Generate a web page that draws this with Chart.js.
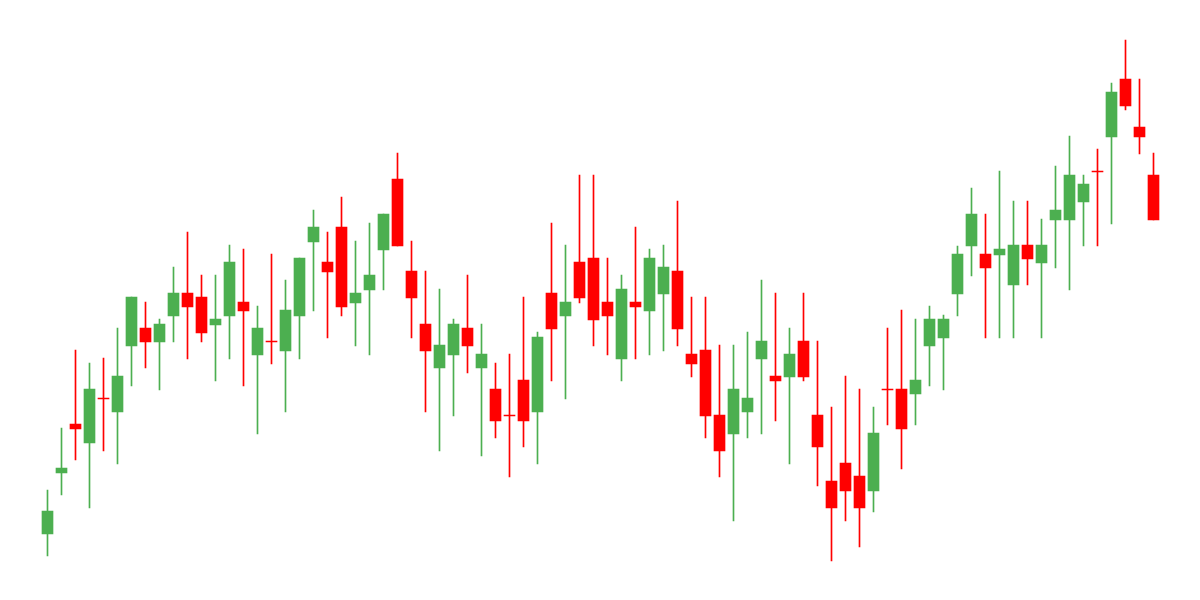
<!DOCTYPE html>
<html>
<head>
<meta charset="utf-8">
<script src="https://cdn.jsdelivr.net/npm/chart.js@4/dist/chart.umd.min.js"></script>
<style>
html,body{margin:0;padding:0;background:#fff;}
#wrap{width:1200px;height:600px;}
</style>
</head>
<body>
<div id="wrap"><canvas id="c" width="1200" height="600"></canvas></div>
<script>
const categories = Array.from({length: 80}, (_, i) => 'D' + (i + 1));
const openValues  = [66,127,176,157,202,188,254,272,258,284,307,303,275,284,298,245,259,249,284,358,
                     338,373,297,310,350,421,329,276,232,245,272,232,211,185,220,188,307,284,338,342,
                     298,241,298,289,306,329,246,250,185,166,188,241,224,223,259,185,119,137,124,109,
                     211,211,206,254,262,306,354,346,345,315,355,337,380,380,398,429,463,521,473,425];
const closeValues = [89,132,171,211,201,224,303,258,276,307,293,267,281,338,289,272,258,290,342,373,
                     328,293,307,325,386,354,302,249,255,276,254,246,179,184,179,263,271,298,302,280,
                     284,311,293,342,333,271,236,184,149,211,202,259,219,246,223,153,92,109,92,167,
                     210,171,220,281,281,346,386,332,351,355,341,355,390,425,416,428,508,494,463,380];
const highValues  = [110,172,250,237,242,272,303,298,281,333,368,325,325,355,351,294,346,320,342,390,
                     368,403,359,377,386,447,359,329,311,281,325,276,237,246,303,268,377,355,425,425,
                     342,325,373,351,355,399,303,303,255,255,268,320,307,272,307,259,193,224,211,193,
                     272,290,281,294,285,354,412,386,429,399,399,381,434,464,425,451,517,560,521,447];
const lowValues   = [44,105,140,92,149,136,214,232,210,258,241,258,219,241,214,166,236,188,241,289,
                     262,284,254,245,310,354,262,188,149,184,227,144,162,123,153,136,219,201,297,254,
                     245,219,241,245,249,254,223,162,123,79,162,166,179,136,219,114,39,79,53,88,
                     175,131,175,214,210,284,324,262,262,262,315,262,332,310,354,354,376,490,446,380];

const upColor = '#4caf50';
const downColor = '#ff0000';
const candleColors = openValues.map((o, i) => closeValues[i] > o ? upColor : downColor);
const wickData = lowValues.map((l, i) => [l, highValues[i]]);
const bodyData = openValues.map((o, i) => [o, closeValues[i]]);

new Chart(document.getElementById('c'), {
  type: 'bar',
  data: {
    labels: categories,
    datasets: [
      {
        label: 'wick',
        data: wickData,
        backgroundColor: candleColors,
        borderWidth: 0,
        barThickness: 1,
        grouped: false,
        order: 2
      },
      {
        label: 'body',
        data: bodyData,
        backgroundColor: candleColors,
        borderWidth: 0,
        barThickness: 11,
        grouped: false,
        order: 1
      }
    ]
  },
  options: {
    responsive: false,
    animation: false,
    devicePixelRatio: 1,
    layout: { padding: { left: 40.5, right: 39.5, top: 0, bottom: 0 } },
    plugins: { legend: { display: false }, tooltip: { enabled: false } },
    scales: {
      x: { display: false, offset: true, grid: { display: false } },
      y: { display: false, min: 0, max: 600, grid: { display: false } }
    }
  }
});
</script>
</body>
</html>
